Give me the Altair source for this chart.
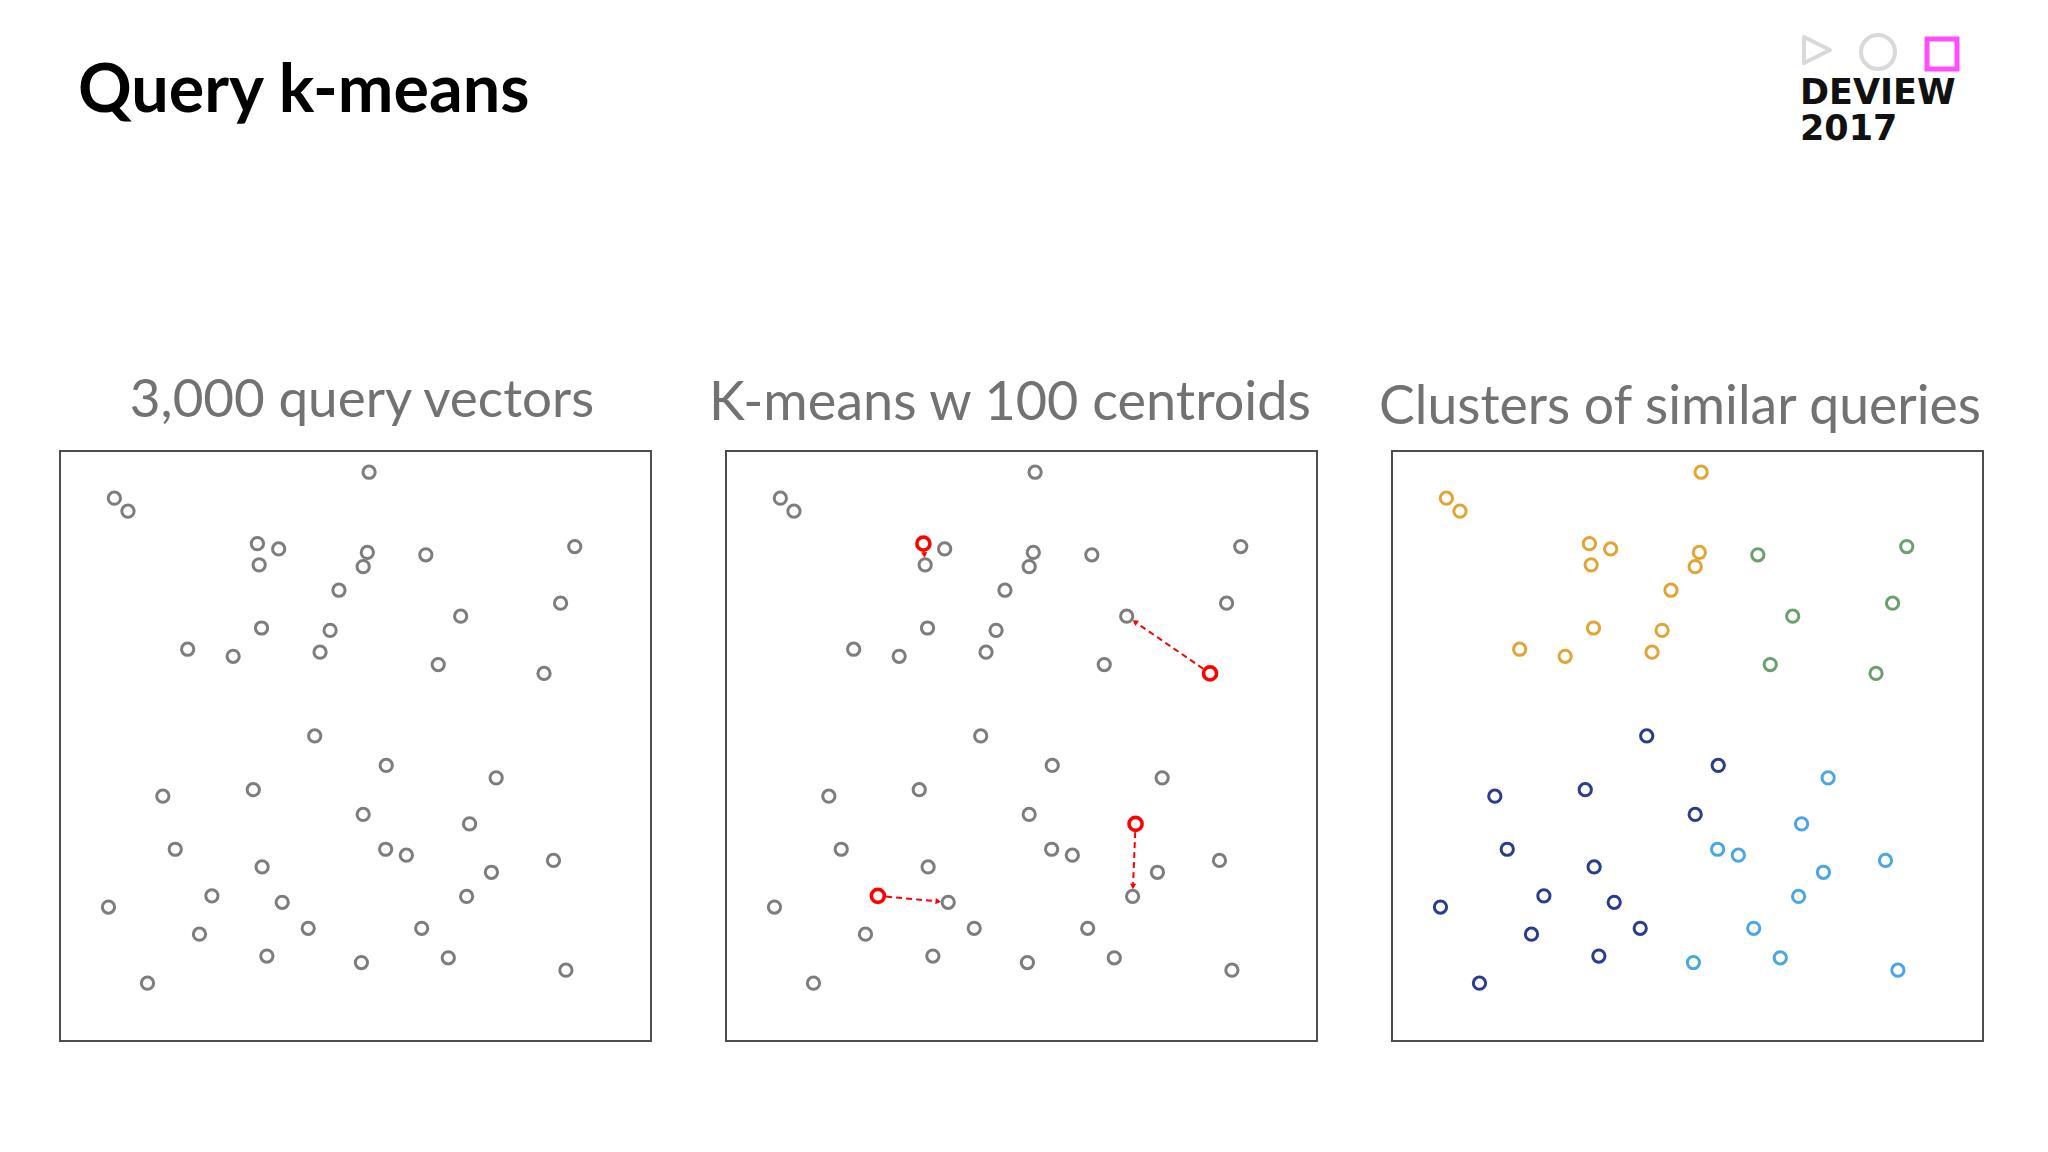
import math
import altair as alt
import pandas as pd

# ---------------- data (normalised to the panel box 0..100) ----------
x_vals = [52.3, 9.2, 11.5, 33.4, 37.0, 33.7, 52.0, 51.3, 61.9, 87.1,
          47.2, 84.7, 67.8, 34.1, 45.7, 21.6, 29.3, 44.0, 64.0, 81.9,
          43.1, 55.2, 73.8, 17.4, 32.7, 51.3, 69.3, 19.5, 55.1, 58.6,
          34.2, 83.5, 73.0, 25.7, 37.6, 68.8, 8.2, 23.6, 42.0, 61.2,
          35.0, 51.0, 65.7, 85.6, 14.8]
y_vals = [96.4, 92.0, 89.8, 84.3, 83.4, 80.7, 82.8, 80.4, 82.4, 83.8,
          76.4, 74.2, 72.0, 70.0, 69.6, 66.4, 65.2, 65.9, 63.8, 62.3,
          51.7, 46.7, 44.6, 41.5, 42.6, 38.4, 36.8, 32.5, 32.5, 31.5,
          29.5, 30.6, 28.6, 24.6, 23.5, 24.5, 22.7, 18.1, 19.1, 19.1,
          14.4, 13.3, 14.1, 12.0, 9.8]
clusters = ["A", "A", "A", "A", "A", "A", "A", "A", "B", "B",
            "A", "B", "B", "A", "A", "A", "A", "A", "B", "B",
            "C", "C", "D", "C", "C", "C", "D", "C", "D", "D",
            "C", "D", "D", "C", "C", "D", "C", "C", "C", "D",
            "C", "D", "D", "D", "C"]
cluster_names = ["A", "B", "C", "D"]
cluster_colors = ["#E2A437", "#6B9F6F", "#2A3C8E", "#4BA6E4"]

centroid_idx = [3, 19, 26, 33]   # points that are drawn as red centroids
target_idx = [5, 12, 35, 34]     # point each centroid arrow points to

titles = ["3,000 query vectors", "K-means w 100 centroids", "Clusters of similar queries"]
main_title = "Query k-means"
logo_lines = ["DEVIEW", "2017"]

# ---------------- derived tables ----------------
pts = pd.DataFrame({"x": x_vals, "y": y_vals, "cluster": clusters})
pts["idx"] = range(len(pts))
grey2 = pts[~pts["idx"].isin(centroid_idx)]
cents = pts[pts["idx"].isin(centroid_idx)]

rows = []
for c, t in zip(centroid_idx, target_idx):
    x0, y0, x1, y1 = x_vals[c], y_vals[c], x_vals[t], y_vals[t]
    dx, dy = x1 - x0, y1 - y0
    L = math.hypot(dx, dy)
    ux, uy = dx / L, dy / L
    gap = 1.4
    tipx, tipy = x1 - ux * gap, y1 - uy * gap
    rows.append({
        "sx": x0 + ux * gap, "sy": y0 + uy * gap,
        "ex": tipx - ux * 0.7, "ey": tipy - uy * 0.7,
        "hx": tipx - ux * 0.45, "hy": tipy - uy * 0.45,
        "angle": math.degrees(math.atan2(dx, dy)) % 360,
    })
arrows = pd.DataFrame(rows)

W, H = 591, 590
GREY = "#7d7d7d"
RED = "#ff0000"
sx = alt.Scale(domain=[0, 100])
sy = alt.Scale(domain=[0, 100])


def circles(df, color, size=150, sw=3.0):
    return alt.Chart(df).mark_point(shape="circle", filled=False, size=size,
                                    strokeWidth=sw, color=color, opacity=1).encode(
        x=alt.X("x:Q", scale=sx, axis=None),
        y=alt.Y("y:Q", scale=sy, axis=None),
    )


box = alt.ViewBackground(stroke="#4d4d4d", strokeWidth=2, fill="white")

p1 = alt.layer(circles(pts, GREY)).properties(width=W, height=H, view=box)

rules = alt.Chart(arrows).mark_rule(color=RED, strokeWidth=2, strokeDash=[6, 4]).encode(
    x=alt.X("sx:Q", scale=sx, axis=None), y=alt.Y("sy:Q", scale=sy, axis=None),
    x2="ex:Q", y2="ey:Q")
heads = alt.Chart(arrows).mark_point(shape="triangle", filled=True, size=40, color=RED,
                                     opacity=1).encode(
    x=alt.X("hx:Q", scale=sx, axis=None), y=alt.Y("hy:Q", scale=sy, axis=None),
    angle=alt.Angle("angle:Q", scale=None))
p2 = alt.layer(circles(grey2, GREY), rules, heads,
               circles(cents, RED, size=170, sw=3.6)).properties(width=W, height=H, view=box)

p3 = alt.layer(
    alt.Chart(pts).mark_point(shape="circle", filled=False, size=150, strokeWidth=3.0,
                              opacity=1).encode(
        x=alt.X("x:Q", scale=sx, axis=None),
        y=alt.Y("y:Q", scale=sy, axis=None),
        color=alt.Color("cluster:N", scale=alt.Scale(domain=cluster_names, range=cluster_colors),
                        legend=None))
).properties(width=W, height=H, view=box)

# ---------------- header (title, panel titles, logo) ----------------
hb = alt.Chart(pd.DataFrame({"k": [0]}))


def txt(s, x, y, size, color, align="left", weight="normal", font="Lato"):
    return hb.mark_text(text=s, align=align, baseline="alphabetic", fontSize=size,
                        font=font, fontWeight=weight, color=color).encode(
        x=alt.value(x), y=alt.value(y))


SPACING = 73
HEADER_W = 3 * W + 2 * SPACING
header = alt.layer(
    txt(main_title, 18, 103, 66.5, "#000000", weight="bold"),
    txt(titles[0], 302, 408, 53, "#727272", align="center"),
    txt(titles[1], 950, 411, 54, "#727272", align="center"),
    txt(titles[2], 1620, 415, 53.5, "#727272", align="center"),
    txt(logo_lines[0], 1740, 95, 35, "#111111", weight="bold", font="DejaVu Sans"),
    txt(logo_lines[1], 1740, 131, 35, "#111111", weight="bold", font="DejaVu Sans"),
    hb.mark_point(shape="M-1,-1L1,0L-1,1Z", filled=False, size=676, stroke="#d9d9d9",
                  strokeWidth=4, strokeJoin="round", opacity=1).encode(
        x=alt.value(1757), y=alt.value(41)),
    hb.mark_point(shape="circle", filled=False, size=1156, stroke="#d9d9d9",
                  strokeWidth=4, opacity=1).encode(x=alt.value(1818), y=alt.value(43)),
    hb.mark_point(shape="square", filled=False, size=900, stroke="#ff4dff",
                  strokeWidth=5, opacity=1).encode(x=alt.value(1882), y=alt.value(45)),
).properties(width=HEADER_W, height=440,
             view=alt.ViewBackground(stroke="transparent", fill="white"))

row = alt.hconcat(p1, p2, p3, spacing=SPACING)
chart = alt.vconcat(header, row, spacing=0).properties(
    padding={"left": 51, "top": 0, "right": 8, "bottom": 8},
    background="white",
).configure_view(stroke="transparent")

chart.save("out.html", embed_options={"renderer": "svg", "actions": False})
